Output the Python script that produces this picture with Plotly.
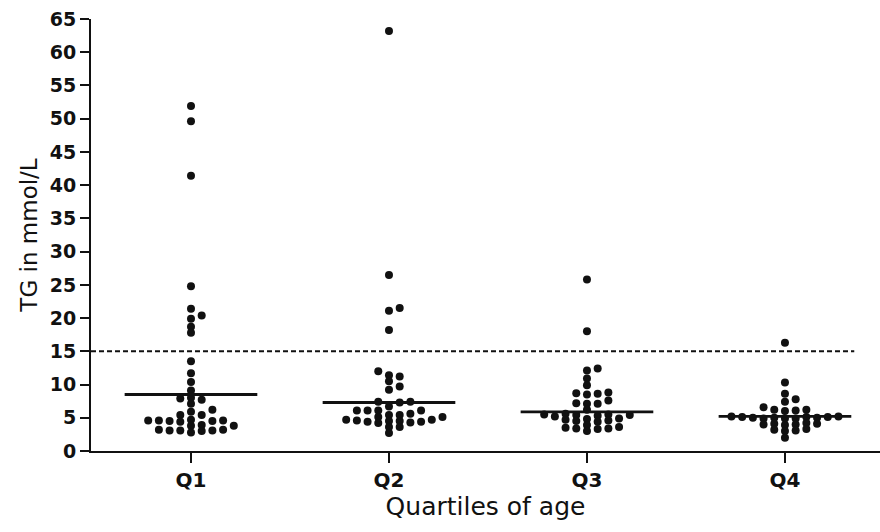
import numpy as np
import plotly.graph_objects as go

# Triglyceride values (mmol/L) per age quartile
categories = ["Q1", "Q2", "Q3", "Q4"]

tg_q1 = [51.9, 49.6, 41.4, 24.8, 21.4, 20.4, 19.9, 18.7, 17.8, 13.5, 11.7, 10.4,
         9.1, 8.0, 7.9, 7.7, 7.1, 6.2, 5.9, 5.4, 5.4, 4.7, 4.6, 4.6, 4.5, 4.5,
         4.4, 4.6, 3.9, 3.8, 3.8, 3.2, 3.1, 3.1, 3.0, 3.1, 3.2, 2.8]
tg_q2 = [63.2, 26.5, 21.5, 21.1, 18.2, 12.0, 11.4, 11.2, 10.5, 9.7, 9.2, 7.4,
         7.4, 7.3, 6.7, 6.1, 6.1, 6.1, 6.1, 5.6, 5.4, 5.4, 5.1, 5.1, 4.7, 4.7,
         4.6, 4.5, 4.5, 4.4, 4.4, 4.3, 4.2, 3.6, 3.6, 2.7]
tg_q3 = [25.8, 18.0, 12.4, 12.1, 10.9, 9.9, 8.8, 8.6, 8.5, 8.7, 7.6, 7.2, 7.1,
         7.1, 6.2, 5.6, 5.5, 5.4, 5.4, 5.3, 5.2, 5.5, 4.6, 4.4, 4.8, 4.7, 4.5,
         4.9, 3.9, 3.5, 3.4, 3.0, 3.3, 3.4, 3.6]
tg_q4 = [16.3, 10.3, 8.6, 7.8, 7.4, 6.6, 6.2, 6.1, 6.2, 6.0, 5.2, 5.1, 5.0,
         5.1, 5.0, 5.2, 5.1, 4.9, 4.9, 5.0, 4.9, 4.2, 4.1, 4.0, 3.9, 4.0, 4.1,
         3.3, 3.2, 3.1, 3.0, 2.0]

# Horizontal line drawn through each group
center_values = [8.5, 7.3, 5.9, 5.2]

threshold = 15.0
y_ticks = list(range(0, 70, 5))

groups = [tg_q1, tg_q2, tg_q3, tg_q4]

# Figure geometry
W, H = 880, 532
M_L, M_R, M_T, M_B = 91, 0, 19, 81
X_RANGE = [0.495, 4.48]
Y_RANGE = [0, 65]
plot_w = W - M_L - M_R
plot_h = H - M_T - M_B
px_per_x = plot_w / (X_RANGE[1] - X_RANGE[0])
px_per_y = plot_h / (Y_RANGE[1] - Y_RANGE[0])

COL_PX = 10.7      # column spacing in the dot swarm
GAP_PX = 5.5       # minimum vertical gap within a column
HALF_LINE = 0.335  # half width of the group line, in category units


def swarm_columns(values):
    """Assign each value a column index (0, +1, -1, +2, ...) so that dots
    in the same column stay at least GAP_PX apart vertically."""
    vals = np.asarray(values, dtype=float)
    cols = np.zeros(len(vals), dtype=int)
    placed = {}
    for i in np.argsort(vals, kind="stable"):
        ypx = vals[i] * px_per_y
        step = 0
        while True:
            col = ((step + 1) // 2) * (1 if step % 2 == 1 else -1)
            if all(abs(ypx - yy) >= GAP_PX for yy in placed.get(col, [])):
                placed.setdefault(col, []).append(ypx)
                cols[i] = col
                break
            step += 1
    return cols


fig = go.Figure()

xs, ys = [], []
for gi, vals in enumerate(groups):
    cols = swarm_columns(vals)
    xs.extend((gi + 1) + cols * COL_PX / px_per_x)
    ys.extend(vals)

fig.add_trace(go.Scatter(
    x=xs, y=ys, mode="markers",
    marker=dict(size=8, color="#111111", line=dict(width=0)),
    hoverinfo="skip", showlegend=False,
))

# group lines
for gi, cv in enumerate(center_values):
    fig.add_trace(go.Scatter(
        x=[gi + 1 - HALF_LINE, gi + 1 + HALF_LINE], y=[cv, cv],
        mode="lines", line=dict(color="#111111", width=2.8),
        hoverinfo="skip", showlegend=False,
    ))

# threshold line
fig.add_trace(go.Scatter(
    x=[X_RANGE[0], 4.35], y=[threshold, threshold],
    mode="lines", line=dict(color="#111111", width=2, dash="5px,3px"),
    hoverinfo="skip", showlegend=False,
))

font_family = "DejaVu Sans, Arial, sans-serif"

fig.update_layout(
    width=W, height=H,
    margin=dict(l=M_L, r=M_R, t=M_T, b=M_B, pad=0),
    paper_bgcolor="white", plot_bgcolor="white",
    font=dict(family=font_family, color="#111111"),
    xaxis=dict(
        range=X_RANGE, tickmode="array",
        tickvals=[1, 2, 3, 4], ticktext=categories,
        showgrid=False, zeroline=False,
        showline=True, linecolor="#111111", linewidth=2,
        ticks="outside", ticklen=10, tickwidth=2, tickcolor="#111111",
        tickfont=dict(size=20, family=font_family, weight="bold"),
        title=dict(text="Quartiles of age", font=dict(size=25, family=font_family), standoff=6),
    ),
    yaxis=dict(
        range=Y_RANGE, tickmode="array", tickvals=y_ticks,
        ticktext=[str(t) for t in y_ticks],
        showgrid=False, zeroline=False,
        showline=True, linecolor="#111111", linewidth=2,
        ticks="outside", ticklen=9, tickwidth=2, tickcolor="#111111",
        tickfont=dict(size=19, family=font_family, weight="bold"),
        title=dict(text="TG in mmol/L", font=dict(size=23, family=font_family), standoff=6),
    ),
)

fig.write_html("out.html")
